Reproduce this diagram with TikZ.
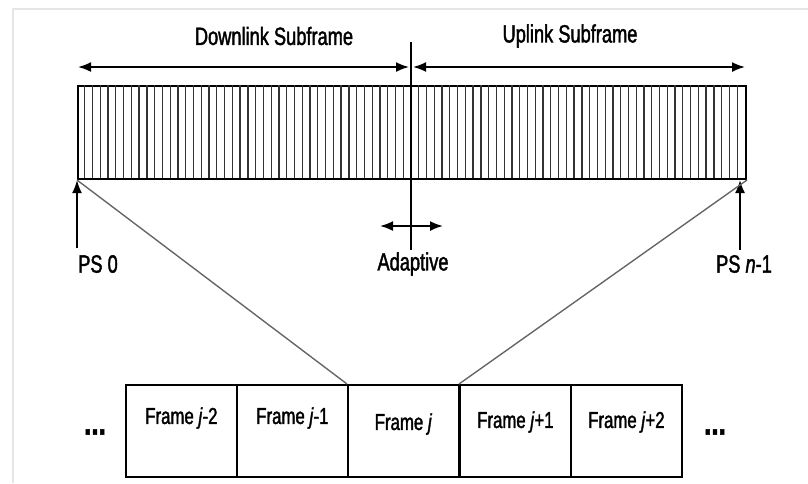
\documentclass[tikz,border=0pt]{standalone}
\usepackage{fontspec}
\setmainfont{Liberation Sans}[FakeStretch=0.73, FakeBold=1.6]
\usetikzlibrary{arrows.meta}
\begin{document}
\begin{tikzpicture}[x=1pt,y=-1pt,
  lbl/.style={inner sep=0pt, font=\fontsize{25}{28}\selectfont},
  flbl/.style={inner sep=0pt, font=\fontsize{23}{26}\selectfont},
  dots/.style={inner sep=0pt, font=\bfseries\fontsize{36}{38}\selectfont},
  frm/.style={draw, line width=1.8pt, minimum width=111pt, minimum height=92pt,
              inner sep=0pt, anchor=north west},
  slot/.style={line width=1.3pt, black!80},
  link/.style={line width=1.4pt, black!60},
  tip/.style={-{Latex[length=13pt,width=10pt]}, line width=1.8pt},
  dtip/.style={{Latex[length=13pt,width=10pt]}-{Latex[length=13pt,width=10pt]}, line width=1.8pt},
]
\useasboundingbox (0,0) rectangle (808,483);
% faint page frame
\draw[black!10, line width=1.5pt] (13,483) -- (13,9) -- (808,9);

% subframe bar with its physical slots
\node[draw, line width=2pt, minimum width=668pt, minimum height=93pt,
      anchor=north west, inner sep=0pt] (bar) at (77,85) {};
\foreach \i in {1,...,85}
  \draw[slot] ({77+\i*7.767},85) -- ({77+\i*7.767},178);

% adaptive boundary
\coordinate (dtop) at (411,42);
\coordinate (dbot) at (411,250);
\draw[line width=1.6pt] (dtop) -- (dbot);

% subframe extents
\coordinate (al) at (78,67);
\coordinate (aml) at (409,67);
\coordinate (amr) at (413,67);
\coordinate (ar) at (745,67);
\draw[dtip] (al) -- (aml);
\draw[dtip] (amr) -- (ar);
\node[lbl] (dl) at (274,36) {Downlink Subframe};
\node[lbl] (ul) at (570,36) {Uplink Subframe};

% adaptive arrow
\coordinate (adl) at (380,226);
\coordinate (adr) at (443,226);
\draw[dtip] (adl) -- (adr);
\node[lbl] (adap) at (413,264) {Adaptive};

% first and last physical slot
\node[lbl] (ps0) at (98,264) {PS 0};
\node[lbl] (psn) at (744,264) {PS \textit{n}-1};
\coordinate (ps0b) at (77,248);
\coordinate (psnb) at (740,250);
\coordinate (psnt) at (740,180);
\draw[tip] (ps0b) -- (bar.south west);
\draw[tip] (psnb) -- (psnt);

% frame sequence
\node[frm] (f1) at (125,384) {};
\node[frm] (f2) at (236,384) {};
\node[frm] (f3) at (347,384) {};
\node[frm] (f4) at (459,384) {};
\node[frm] (f5) at (570,384) {};
\node[flbl] at ([yshift=-34pt]f1.north) {Frame \textit{j}-2};
\node[flbl] at ([yshift=-34pt]f2.north) {Frame \textit{j}-1};
\node[flbl] at ([yshift=-40pt]f3.north) {Frame \textit{j}};
\node[flbl] at ([yshift=-38pt]f4.north) {Frame \textit{j}+1};
\node[flbl] at ([yshift=-38pt]f5.north) {Frame \textit{j}+2};
\node[dots] (dl1) at (95,432) {...};
\node[dots] (dr1) at (715,432) {...};

% zoom lines from bar to frame j
\draw[link] (bar.south west) -- (f3.north west);
\draw[link] (bar.south east) -- (f4.north west);
\end{tikzpicture}
\end{document}
